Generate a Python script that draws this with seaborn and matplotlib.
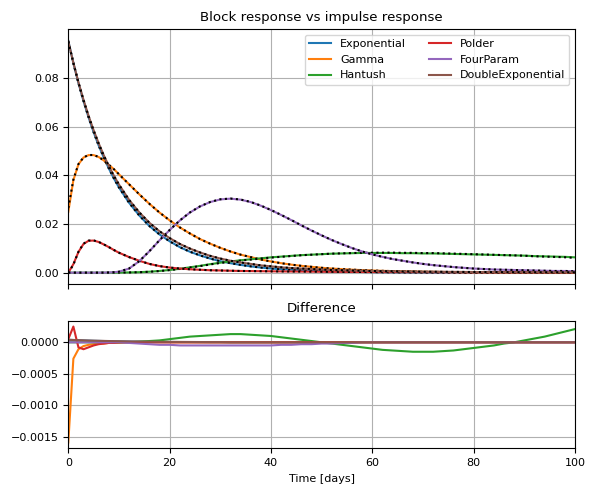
import matplotlib
matplotlib.use("Agg")
import matplotlib.pyplot as plt
import numpy as np
import seaborn as sns

plt.rcParams["font.size"] = 8

# time grid: daily for the first 10 days, then every 2 days
t = np.array(list(range(0, 11)) + list(range(12, 101, 2)))

models = ["Exponential", "Gamma", "Hantush", "Polder", "FourParam", "DoubleExponential"]

# block responses
exponential_block = [0.0952, 0.0861, 0.0779, 0.0705, 0.0638, 0.0577, 0.0522, 0.0473, 0.0428, 0.0387, 0.0350,
                     0.0287, 0.0235, 0.0192, 0.0157, 0.0129, 0.0105, 0.0086, 0.0071, 0.0058, 0.0047,
                     0.0039, 0.0032, 0.0026, 0.0021, 0.0017, 0.0014, 0.0012, 0.0010, 0.0008, 0.0006,
                     0.0005, 0.0004, 0.00035, 0.0003, 0.00024, 0.0002, 0.00016, 0.00013, 0.0001, 0.00009,
                     0.00007, 0.00006, 0.00005, 0.00004, 0.00003, 0.00003, 0.00002, 0.00002, 0.00001, 0.00001,
                     0.00001, 0.00001, 0.00001, 0.0, 0.0]
gamma_block = [0.0250, 0.0380, 0.0445, 0.0473, 0.0483, 0.0483, 0.0475, 0.0461, 0.0443, 0.0425, 0.0404,
               0.0363, 0.0322, 0.0283, 0.0247, 0.0215, 0.0186, 0.0161, 0.0138, 0.0119, 0.0102,
               0.0087, 0.0074, 0.0064, 0.0054, 0.0046, 0.0039, 0.0033, 0.0028, 0.0024, 0.0020,
               0.0017, 0.00146, 0.00124, 0.00105, 0.00089, 0.00076, 0.00064, 0.00055, 0.00046, 0.00039,
               0.00033, 0.00028, 0.00024, 0.0002, 0.00017, 0.00015, 0.00012, 0.0001, 0.00009, 0.00008,
               0.00006, 0.00005, 0.00005, 0.00004, 0.00003]
hantush_block = [0.0, 0.0, 0.0, 0.0, 0.0, 0.0, 0.0, 0.0, 0.0, 0.00002, 0.00004,
                 0.0001, 0.0002, 0.0004, 0.0007, 0.0011, 0.0016, 0.0022, 0.0028, 0.0035, 0.0041,
                 0.0046, 0.0051, 0.0055, 0.0059, 0.0063, 0.0066, 0.0069, 0.0072, 0.0074, 0.0076,
                 0.0078, 0.0079, 0.0080, 0.0081, 0.0081, 0.0081, 0.0081, 0.0080, 0.0080, 0.0079,
                 0.0079, 0.0078, 0.0077, 0.0076, 0.0075, 0.0074, 0.0073, 0.0072, 0.0071, 0.0070,
                 0.0068, 0.0067, 0.0066, 0.0065, 0.0063]
polder_block = [0.0, 0.0035, 0.0085, 0.0118, 0.0131, 0.0132, 0.0126, 0.0116, 0.0105, 0.0093, 0.0082,
                0.0064, 0.0049, 0.0036, 0.0027, 0.0021, 0.0017, 0.0014, 0.0012, 0.0010, 0.0009,
                0.0008, 0.0007, 0.00066, 0.00061, 0.00056, 0.00052, 0.00048, 0.00045, 0.00042, 0.00039,
                0.00036, 0.00034, 0.00031, 0.00029, 0.00027, 0.00025, 0.00024, 0.00022, 0.00021, 0.0002,
                0.00019, 0.00018, 0.00017, 0.00016, 0.00015, 0.00014, 0.00013, 0.00013, 0.00012, 0.00011,
                0.00011, 0.0001, 0.0001, 0.00009, 0.00009]
fourparam_block = [0.0, 0.0, 0.0, 0.0, 0.0, 0.0, 0.0, 0.00002, 0.00008, 0.0002, 0.0004,
                   0.0017, 0.0047, 0.0088, 0.0133, 0.0175, 0.0214, 0.0247, 0.0272, 0.0290, 0.0301,
                   0.0304, 0.0300, 0.0290, 0.0275, 0.0257, 0.0237, 0.0216, 0.0194, 0.0173, 0.0153,
                   0.0134, 0.0117, 0.0101, 0.0087, 0.0075, 0.0065, 0.0056, 0.0049, 0.0042, 0.0036,
                   0.0031, 0.0027, 0.0023, 0.0020, 0.0017, 0.0015, 0.0013, 0.0012, 0.0011, 0.0010,
                   0.0009, 0.0008, 0.0007, 0.0007, 0.0006]
doubleexp_block = [0.0950, 0.0862, 0.0782, 0.0710, 0.0644, 0.0585, 0.0531, 0.0482, 0.0438, 0.0398, 0.0362,
                   0.0299, 0.0248, 0.0205, 0.0170, 0.0142, 0.0118, 0.0099, 0.0083, 0.0069, 0.0058,
                   0.0049, 0.0042, 0.0036, 0.0030, 0.0026, 0.0022, 0.0019, 0.0017, 0.0015, 0.0013,
                   0.0011, 0.0010, 0.0009, 0.0008, 0.0007, 0.0006, 0.0006, 0.0005, 0.0005, 0.0004,
                   0.0004, 0.00035, 0.00033, 0.0003, 0.00027, 0.00025, 0.00023, 0.00021, 0.00019, 0.00018,
                   0.00017, 0.00016, 0.00015, 0.00014, 0.00013]

# block minus impulse (lower panel)
exponential_diff = [0.00004, 0.000036, 0.000033, 0.00003, 0.000027, 0.000024, 0.000022, 0.00002, 0.000018, 0.000016, 0.000015,
                    0.000012, 0.00001, 0.000008, 0.000007, 0.000005, 0.000004, 0.000004, 0.000003, 0.000002, 0.000002] + [0.0] * 35
gamma_diff = [-0.00159, -0.00026, -0.00011, -0.00006, -0.00004, -0.00003, -0.00002, -0.00002, -0.00001, -0.00001, -0.00001] + [0.0] * 45
hantush_diff = [0.0] * 11 + [0.0, 0.00001, 0.00002, 0.00003, 0.00005, 0.00007, 0.00009, 0.0001, 0.00011, 0.00012,
                             0.00013, 0.00013, 0.00012, 0.00011, 0.0001, 0.00008, 0.00006, 0.00004, 0.00002, 0.0,
                             -0.00002, -0.00004, -0.00006, -0.00008, -0.0001, -0.00012, -0.00013, -0.00014, -0.00015, -0.00015,
                             -0.00015, -0.00014, -0.00013, -0.00011, -0.00009, -0.00007, -0.00005, -0.00002, 0.0, 0.00003,
                             0.00006, 0.00009, 0.00013, 0.00017, 0.00021]
polder_diff = [0.00005, 0.00025, -0.00008, -0.00011, -0.00008, -0.00005, -0.00003, -0.00002, -0.00001, -0.00001, 0.0] + [0.0] * 45
fourparam_diff = [0.0] * 11 + [-0.00001, -0.00002, -0.00003, -0.00004, -0.00004, -0.00005, -0.00005, -0.00005, -0.00005, -0.00005,
                               -0.00005, -0.00005, -0.00005, -0.00005, -0.00005, -0.00004, -0.00004, -0.00003, -0.00003, -0.00002,
                               -0.00002, -0.00001, -0.00001] + [0.0] * 22
doubleexp_diff = [0.00004, 0.000037, 0.000034, 0.000031, 0.000028, 0.000026, 0.000024, 0.000022, 0.00002, 0.000018, 0.000017,
                  0.000014, 0.000012, 0.00001, 0.000008, 0.000007, 0.000006, 0.000005, 0.000004, 0.000003, 0.000003] + [0.0] * 35

blocks = [exponential_block, gamma_block, hantush_block, polder_block, fourparam_block, doubleexp_block]
diffs = [exponential_diff, gamma_diff, hantush_diff, polder_diff, fourparam_diff, doubleexp_diff]

colors = sns.color_palette("tab10", 6)

fig, (ax1, ax2) = plt.subplots(2, 1, figsize=(5.96, 4.96), dpi=100, sharex=True,
                               gridspec_kw={"height_ratios": [2, 1]})

for name, b, d, c in zip(models, blocks, diffs, colors):
    b = np.array(b)
    d = np.array(d)
    sns.lineplot(x=t, y=b, color=c, label=name, ax=ax1)
    # impulse response as black dotted line
    sns.lineplot(x=t, y=b - d, color="k", linestyle=":", ax=ax1)
    sns.lineplot(x=t, y=d, color=c, ax=ax2)

ax1.set_title("Block response vs impulse response")
ax1.legend(ncol=2, loc="upper right")
ax1.grid(True)

ax2.set_title("Difference")
ax2.set_xlabel("Time [days]")
ax2.grid(True)
ax2.set_xlim(0, 100)

fig.subplots_adjust(left=0.1146, right=0.9648, top=0.9409, bottom=0.0962, hspace=0.19)
fig.savefig("out.png", dpi=100)
